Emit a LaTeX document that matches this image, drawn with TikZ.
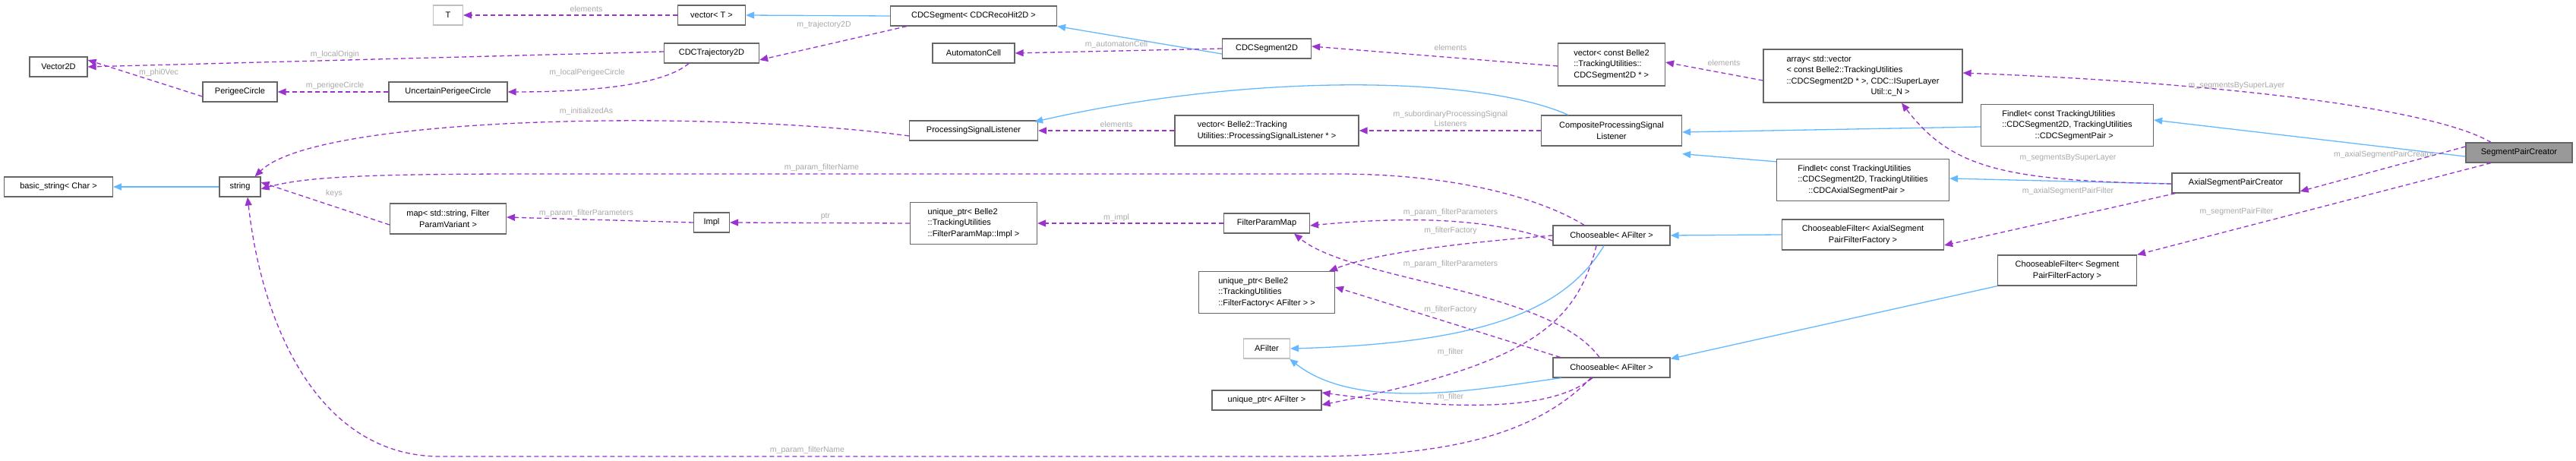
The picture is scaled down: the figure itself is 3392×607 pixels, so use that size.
\documentclass[tikz,border=0pt]{standalone}
\usepackage{fontspec}
\setmainfont{Liberation Sans}
\usetikzlibrary{arrows.meta}
\definecolor{use}{HTML}{9A32CD}
\definecolor{inh}{HTML}{63B8FF}
\definecolor{bord}{HTML}{666666}
\definecolor{labc}{HTML}{A8A8A8}
\begin{document}
\begin{tikzpicture}[x=1pt,y=-1pt,
  box/.style={draw=bord,fill=white,line width=1.2pt,inner sep=2pt,font=\fontsize{11}{14.5}\selectfont,align=center},
  lbox/.style={box,align=left},
  fbox/.style={box,draw=black!25},
  use/.style={draw=use,line width=1.3pt,dash pattern=on 6pt off 4pt,-{Triangle[length=11pt,width=9pt]}},
  inh/.style={draw=inh,line width=1.3pt,-{Triangle[length=11pt,width=9pt]}},
  lab/.style={text=labc,font=\fontsize{10.5}{13}\selectfont,align=center,inner sep=0pt}]
\useasboundingbox (0,0) rectangle (3392,607);
% nodes
\node[fbox,minimum width=39pt,minimum height=26pt] (T) at (590,20) {T};
\node[box,minimum width=89pt,minimum height=26pt] (vecT) at (937,20) {vector< T >};
\node[box,minimum width=219pt,minimum height=26pt] (seg) at (1282,21) {CDCSegment< CDCRecoHit2D >};
\node[box,minimum width=125pt,minimum height=26pt] (traj) at (937,70) {CDCTrajectory2D};
\node[box,minimum width=76pt,minimum height=26pt] (v2d) at (77,88) {Vector2D};
\node[box,minimum width=98pt,minimum height=26pt] (pc) at (316,121) {PerigeeCircle};
\node[box,minimum width=156pt,minimum height=26pt] (upc) at (590,121) {UncertainPerigeeCircle};
\node[box,minimum width=143pt,minimum height=26pt] (bstr) at (77,246) {basic\_string< Char >};
\node[box,minimum width=54pt,minimum height=26pt] (str) at (316,246) {string};
\node[box,minimum width=153pt,minimum height=40pt] (map) at (590,288) {map< std::string, Filter\\ParamVariant >};
\node[box,minimum width=47pt,minimum height=26pt] (impl) at (937,293) {Impl};
\node[box,minimum width=108pt,minimum height=26pt] (auto) at (1282,70) {AutomatonCell};
\node[box,minimum width=117pt,minimum height=26pt] (seg2d) at (1668,64) {CDCSegment2D};
\node[lbox,minimum width=141pt,minimum height=56pt] (vcs) at (2122,85) {vector< const Belle2\\::TrackingUtilities::\\CDCSegment2D * >};
\node[box,minimum width=169pt,minimum height=26pt] (psl) at (1282,172) {ProcessingSignalListener};
\node[lbox,minimum width=242pt,minimum height=40pt] (vpsl) at (1668,172) {vector< Belle2::Tracking\\Utilities::ProcessingSignalListener * >};
\node[box,minimum width=185pt,minimum height=40pt] (cpsl) at (2122,172) {CompositeProcessingSignal\\Listener};
\node[lbox,minimum width=167pt,minimum height=55pt] (uimpl) at (1282,294) {unique\_ptr< Belle2\\::TrackingUtilities\\::FilterParamMap::Impl >};
\node[box,minimum width=113pt,minimum height=26pt] (fpm) at (1668,294) {FilterParamMap};
\node[box,minimum width=154pt,minimum height=26pt] (ch1) at (2122,310) {Chooseable< AFilter >};
\node[lbox,minimum width=262pt,minimum height=70pt] (arr) at (2453,100) {array< std::vector\\< const Belle2::TrackingUtilities\\::CDCSegment2D * >, CDC::ISuperLayer\\\hphantom{::CDCSegment2D * >, }Util::c\_N >};
\node[lbox,minimum width=227pt,minimum height=55pt] (f1) at (2722,165) {Findlet< const TrackingUtilities\\::CDCSegment2D, TrackingUtilities\\\hphantom{::CDCSe}::CDCSegmentPair >};
\node[box,fill=black!40,minimum width=140pt,minimum height=26pt] (spc) at (3317,201) {SegmentPairCreator};
\node[lbox,minimum width=227pt,minimum height=55pt] (f2) at (2453,237) {Findlet< const TrackingUtilities\\::CDCSegment2D, TrackingUtilities\\\hphantom{::C}::CDCAxialSegmentPair >};
\node[box,minimum width=168pt,minimum height=26pt] (axc) at (2944,241) {AxialSegmentPairCreator};
\node[box,minimum width=213pt,minimum height=40pt] (cfa) at (2453,309) {ChooseableFilter< AxialSegment\\PairFilterFactory >};
\node[box,minimum width=183pt,minimum height=40pt] (cfs) at (2722,356) {ChooseableFilter< Segment\\PairFilterFactory >};
\node[lbox,minimum width=179pt,minimum height=55pt] (uff) at (1668,385) {unique\_ptr< Belle2\\::TrackingUtilities\\::FilterFactory< AFilter > >};
\node[fbox,minimum width=61pt,minimum height=26pt] (afil) at (1668,459) {AFilter};
\node[box,minimum width=154pt,minimum height=26pt] (ch2) at (2122,484) {Chooseable< AFilter >};
\node[box,minimum width=144pt,minimum height=26pt] (uaf) at (1668,527) {unique\_ptr< AFilter >};
% edges
\draw[use] (vecT.west) -- (T.east);
\draw[inh] (seg.west) -- (vecT.east);
\draw[use] ([xshift=22pt]seg.south west) -- ([yshift=-9pt]traj.east);
\draw[use] ([yshift=2pt]traj.west) -- (v2d.east);
\draw[use] ([xshift=-30pt]traj.south) .. controls (870,115) and (760,121) .. (upc.east);
\draw[use] (upc.west) -- (pc.east);
\draw[use] ([yshift=-6pt]pc.west) -- ([yshift=9pt]v2d.east);
\draw[inh] ([yshift=-7pt]seg2d.west) -- (seg.south east);
\draw[use] (seg2d.west) -- (auto.east);
\draw[use] ([yshift=-2pt]vcs.west) -- ([yshift=3pt]seg2d.east);
\draw[use] ([yshift=-6pt]arr.west) -- ([yshift=3pt]vcs.east);
\draw[use] ([xshift=-37pt]spc.north) .. controls (3200,140) and (2900,108) .. ([yshift=4pt]arr.east);
\draw[inh] ([yshift=-5pt]spc.west) -- ([yshift=7pt]f1.east);
\draw[inh] ([yshift=-2pt]f1.west) -- ([yshift=-2pt]cpsl.east);
\draw[inh] ([yshift=-4pt]f2.north west) -- ([yshift=-10pt]cpsl.south east);
\draw[inh] ([yshift=-1pt]axc.west) -- ([yshift=2pt]f2.east);
\draw[use] ([yshift=-1pt]axc.west) .. controls (2640,238) and (2570,222) .. ([xshift=51pt]arr.south);
\draw[use] ([yshift=8pt]spc.west) -- ([yshift=-11pt]axc.east);
\draw[use] ([xshift=5pt]axc.south west) -- ([yshift=-14pt]cfa.east);
\draw[use] ([xshift=-37pt]spc.south) -- (cfs.north east);
\draw[inh] (cfa.west) -- (ch1.east);
\draw[inh] (cfs.south west) -- ([yshift=-2pt]ch2.north east);
\draw[inh] ([xshift=-57pt]cpsl.north) .. controls (1950,100) and (1650,95) .. ([xshift=-5pt,yshift=-2pt]psl.north east);
\draw[use] (cpsl.west) -- (vpsl.east);
\draw[use] (vpsl.west) -- (psl.east);
\draw[use] ([yshift=-7pt]psl.west) .. controls (950,145) and (420,150) .. ([xshift=-8pt]str.north east);
\draw[use] ([xshift=-36pt]ch1.north) .. controls (2030,262) and (1920,229) .. (1760,229) -- (700,229) .. controls (480,229) and (400,233) .. ([yshift=-3pt]str.east);
\draw[use] ([xshift=-27pt]ch2.south) .. controls (2020,575) and (1900,601) .. (1720,601) -- (580,601) .. controls (420,601) and (345,430) .. ([xshift=10pt]str.south);
\draw[use] ([yshift=-8pt]map.west) -- ([yshift=6pt]str.east);
\draw[use] (impl.west) -- ([yshift=2pt]map.east);
\draw[use] (uimpl.west) -- (impl.east);
\draw[use] (fpm.west) -- (uimpl.east);
\draw[use] ([yshift=-7pt]ch1.west) .. controls (1960,286) and (1850,285) .. ([yshift=-3pt]fpm.east);
\draw[use] ([xshift=-16pt]ch2.north) .. controls (2040,380) and (1780,370) .. ([xshift=36pt]fpm.south);
\draw[use] (ch1.west) .. controls (1950,318) and (1820,330) .. ([xshift=-8pt]uff.north east);
\draw[use] ([xshift=10pt]ch2.north west) -- ([yshift=7pt]uff.east);
\draw[inh] ([xshift=-10pt]ch1.south) .. controls (2060,410) and (1950,452) .. (afil.east);
\draw[inh] ([xshift=12pt]ch2.south west) .. controls (1960,510) and (1790,545) .. ([xshift=-1pt]afil.south east);
\draw[use] ([xshift=-20pt]ch1.south) .. controls (2075,430) and (2010,480) .. ([yshift=-6pt]uaf.east);
\draw[use] ([xshift=-25pt]ch2.south) .. controls (2050,535) and (1950,545) .. ([yshift=10pt]uaf.east);
\draw[inh] (str.west) -- (bstr.east);
% labels
\node[lab] (l1) at (772,12) {elements};
\node[lab] (l2) at (1085,33) {m\_trajectory2D};
\node[lab] (l3) at (441,72) {m\_localOrigin};
\node[lab] (l4) at (209,96) {m\_phi0Vec};
\node[lab] (l5) at (441,113) {m\_perigeeCircle};
\node[lab] (l6) at (773,96) {m\_localPerigeeCircle};
\node[lab] (l7) at (772,147) {m\_initializedAs};
\node[lab] (l8) at (1082,221) {m\_param\_filterName};
\node[lab] (l9) at (440,255) {keys};
\node[lab] (l10) at (772,281) {m\_param\_filterParameters};
\node[lab] (l11) at (1087,285) {ptr};
\node[lab] (l12) at (1470,59) {m\_automatonCell};
\node[lab] (l13) at (1910,63) {elements};
\node[lab] (l14) at (1470,164) {elements};
\node[lab] (l15) at (1910,156) {m\_subordinaryProcessingSignal\\Listeners};
\node[lab] (l16) at (1470,287) {m\_impl};
\node[lab] (l17) at (1910,280) {m\_param\_filterParameters};
\node[lab] (l18) at (1910,304) {m\_filterFactory};
\node[lab] (l19) at (2270,83) {elements};
\node[lab] (l20) at (2945,113) {m\_segmentsBySuperLayer};
\node[lab] (l21) at (2723,208) {m\_segmentsBySuperLayer};
\node[lab] (l22) at (3139,204) {m\_axialSegmentPairCreator};
\node[lab] (l23) at (2723,252) {m\_axialSegmentPairFilter};
\node[lab] (l24) at (2945,279) {m\_segmentPairFilter};
\node[lab] (l25) at (1910,348) {m\_param\_filterParameters};
\node[lab] (l26) at (1910,408) {m\_filterFactory};
\node[lab] (l27) at (1910,464) {m\_filter};
\node[lab] (l28) at (1910,523) {m\_filter};
\node[lab] (l29) at (1063,593) {m\_param\_filterName};
\end{tikzpicture}
\end{document}
